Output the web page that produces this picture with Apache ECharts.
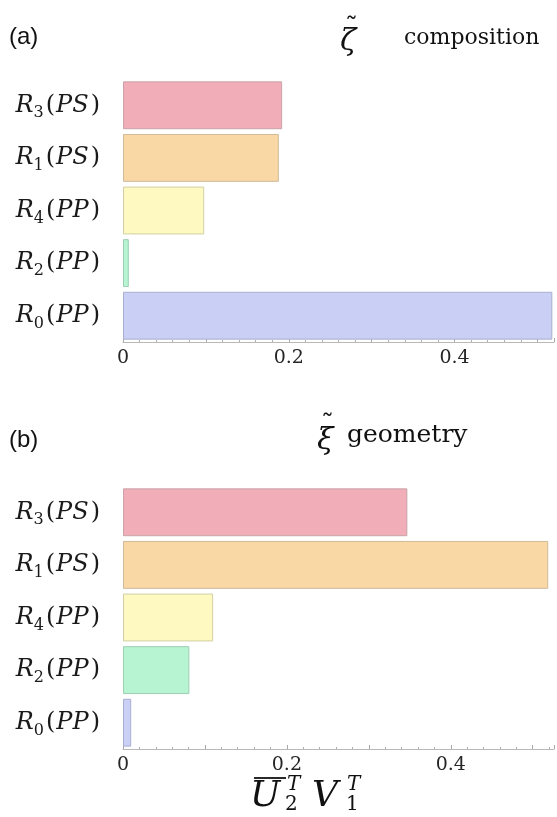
<!DOCTYPE html>
<html>
<head>
<meta charset="utf-8">
<script src="https://cdn.jsdelivr.net/npm/echarts@6/dist/echarts.min.js"></script>
<style>
  html, body { margin: 0; padding: 0; background: #ffffff; }
  #chart { width: 557px; height: 817px; }
</style>
</head>
<body>
<div id="chart"></div>
<script>
// Resonance channels, listed top to bottom
const categories = ['R3(PS)', 'R1(PS)', 'R4(PP)', 'R2(PP)', 'R0(PP)'];
// (a) composition weights  ζ̃
const compositionValues = [0.192, 0.188, 0.098, 0.007, 0.518];
// (b) geometry weights  ξ̃
const geometryValues = [0.347, 0.519, 0.110, 0.081, 0.010];
// labelled ticks on the value axes
const tickLabels = [0, 0.2, 0.4];

// pastel fill + soft edge per channel
const barFills = ['#f2aeb8', '#f9d8a6', '#fdf9c0', '#b6f4d2', '#c9cff5'];
const barEdges = ['#c8a2a8', '#cfba99', '#d2cfa6', '#9dcdb3', '#a9afcf'];

const SERIF = '"DejaVu Serif", serif';

function labelText(v) {
  for (const t of tickLabels) {
    if (Math.abs(v - t) < 1e-6) return t === 0 ? '0' : t.toFixed(1);
  }
  return '';
}

function channelLabel(name) {
  const m = /^R(\d)\((\w+)\)$/.exec(name);
  return '{i|R}{s|' + m[1] + '}{p|(}{i|' + m[2] + '}{p|)}';
}

const richLabel = {
  i: { fontFamily: SERIF, fontStyle: 'italic', fontSize: 24, color: '#1a1a1a', lineHeight: 32, verticalAlign: 'middle' },
  p: { fontFamily: SERIF, fontSize: 24, color: '#1a1a1a', lineHeight: 32, verticalAlign: 'middle', padding: [0, 1, 0, 2] },
  s: { fontFamily: SERIF, fontSize: 16, color: '#1a1a1a', lineHeight: 16, verticalAlign: 'bottom', padding: [0, 0, 0, 0] }
};

function valueAxes(gridIndex, max) {
  return [
    {
      type: 'value', gridIndex: gridIndex, position: 'bottom', min: 0, max: max, interval: 0.02,
      axisLine: { show: true, lineStyle: { color: '#b9b9b9', width: 1 } },
      axisTick: { show: true, inside: true, length: 2, lineStyle: { color: '#b0b0b0' } },
      splitLine: { show: false },
      axisLabel: {
        show: true, margin: 7, fontFamily: SERIF, fontSize: 19, color: '#262626',
        formatter: labelText, showMaxLabel: true, showMinLabel: true, hideOverlap: false
      }
    },
    {
      type: 'value', gridIndex: gridIndex, position: 'bottom', min: 0, max: max, interval: 0.1,
      axisLine: { show: false },
      axisTick: { show: true, inside: true, length: 4, lineStyle: { color: '#a8a8a8' } },
      splitLine: { show: false },
      axisLabel: { show: false }
    }
  ];
}

function categoryAxis(gridIndex) {
  return {
    type: 'category', gridIndex: gridIndex, data: categories, inverse: true,
    axisLine: { show: false }, axisTick: { show: false }, splitLine: { show: false },
    axisLabel: { margin: 22, formatter: channelLabel, rich: richLabel }
  };
}

function barSeries(values, xIdx, yIdx) {
  return {
    type: 'bar', xAxisIndex: xIdx, yAxisIndex: yIdx,
    barCategoryGap: '9%',
    silent: true,
    data: values.map((v, i) => ({
      value: v,
      itemStyle: { color: barFills[i], borderColor: barEdges[i], borderWidth: 1 }
    }))
  };
}

const chart = echarts.init(document.getElementById('chart'), null, { renderer: 'canvas' });

chart.setOption({
  animation: false,
  backgroundColor: '#ffffff',
  grid: [
    { left: 123, top: 79, width: 431, height: 263 },
    { left: 123, top: 486, width: 434, height: 263 }
  ],
  xAxis: [].concat(valueAxes(0, 0.52), valueAxes(1, 0.526)),
  yAxis: [categoryAxis(0), categoryAxis(1)],
  series: [
    barSeries(compositionValues, 0, 0),
    barSeries(geometryValues, 2, 1)
  ],
  graphic: [
    // panel (a) heading
    { type: 'text', left: 9, top: 25, style: { text: '(a)', font: '24px "Liberation Sans", Arial, sans-serif', fill: '#111' } },
    { type: 'text', x: 340, y: 27, style: { text: 'ζ', font: 'italic 30px ' + SERIF, fill: '#111' } },
    { type: 'text', x: 345, y: 16, style: { text: '˜', font: '26px ' + SERIF, fill: '#111' } },
    { type: 'text', x: 404, y: 27, style: { text: 'composition', font: '22px ' + SERIF, fill: '#111' } },
    // panel (b) heading
    { type: 'text', left: 9, top: 428, style: { text: '(b)', font: '24px "Liberation Sans", Arial, sans-serif', fill: '#111' } },
    { type: 'text', x: 317, y: 426, style: { text: 'ξ', font: 'italic 30px ' + SERIF, fill: '#111' } },
    { type: 'text', x: 321, y: 413, style: { text: '˜', font: '26px ' + SERIF, fill: '#111' } },
    { type: 'text', x: 347, y: 423, style: { text: 'geometry', font: '25px ' + SERIF, fill: '#111' } },
    // bottom axis name:  \bar U_2^T V_1^T
    {
      type: 'group', x: 250, y: 775,
      children: [
        { type: 'line', shape: { x1: 4, y1: 3, x2: 36, y2: 3 }, style: { stroke: '#111', lineWidth: 1.8 } },
        { type: 'text', x: 0, y: 4, style: { text: 'U', font: 'italic 36px ' + SERIF, fill: '#111' } },
        { type: 'text', x: 37, y: 0, style: { text: 'T', font: 'italic 20px ' + SERIF, fill: '#111' } },
        { type: 'text', x: 35, y: 20, style: { text: '2', font: '20px ' + SERIF, fill: '#111' } },
        { type: 'text', x: 62, y: 4, style: { text: 'V', font: 'italic 36px ' + SERIF, fill: '#111' } },
        { type: 'text', x: 97, y: 0, style: { text: 'T', font: 'italic 20px ' + SERIF, fill: '#111' } },
        { type: 'text', x: 96, y: 20, style: { text: '1', font: '20px ' + SERIF, fill: '#111' } }
      ]
    }
  ]
});
</script>
</body>
</html>
